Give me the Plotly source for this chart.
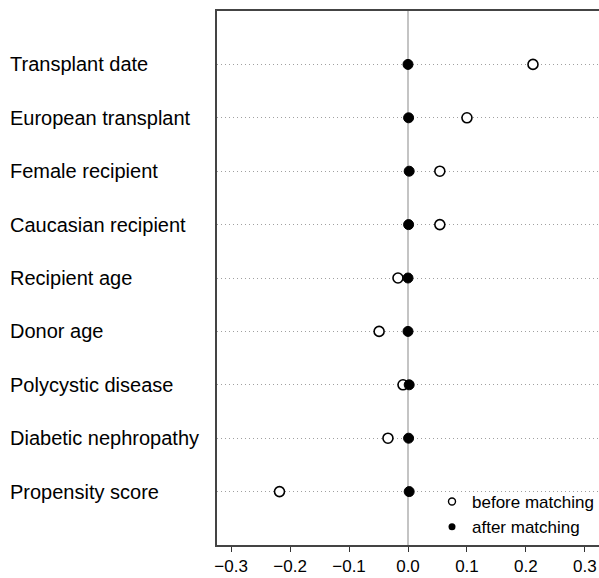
import plotly.graph_objects as go

categories = ["Transplant date", "European transplant", "Female recipient",
              "Caucasian recipient", "Recipient age", "Donor age",
              "Polycystic disease", "Diabetic nephropathy", "Propensity score"]
before_matching = [0.212, 0.100, 0.054, 0.054, -0.017, -0.049, -0.0085, -0.034, -0.218]
after_matching = [0.0, 0.001, 0.002, 0.001, 0.0, 0.0, 0.002, 0.001, 0.002]
x_ticks = [-0.3, -0.2, -0.1, 0.0, 0.1, 0.2, 0.3]

n = len(categories)
ypos = [n - i for i in range(n)]

FONT = "Liberation Sans, Arial, Helvetica, sans-serif"

fig = go.Figure()
fig.add_trace(go.Scatter(x=before_matching, y=ypos, mode="markers", showlegend=False,
                         marker=dict(symbol="circle", size=10, color="white",
                                     line=dict(color="black", width=1.6))))
fig.add_trace(go.Scatter(x=after_matching, y=ypos, mode="markers", showlegend=False,
                         marker=dict(symbol="circle", size=10, color="black",
                                     line=dict(color="black", width=1))))
# legend entries
fig.add_trace(go.Scatter(x=[None], y=[None], mode="markers", name="before matching",
                         marker=dict(symbol="circle", size=7, color="white",
                                     line=dict(color="black", width=1.4))))
fig.add_trace(go.Scatter(x=[None], y=[None], mode="markers", name="after matching",
                         marker=dict(symbol="circle", size=7, color="black")))

for cat, y in zip(categories, ypos):
    fig.add_annotation(x=-0.547, xref="paper", y=y, yref="y", text=cat,
                       showarrow=False, xanchor="left", yanchor="middle",
                       font=dict(size=20, color="black", family=FONT))

fig.update_xaxes(range=[-0.324, 0.324], tickvals=x_ticks, tickformat=".1f",
                 ticks="outside", ticklen=5, tickcolor="#333", tickwidth=1.2,
                 showgrid=False, zeroline=True, zerolinecolor="#c4c4c4", zerolinewidth=2,
                 showline=True, mirror=True, linecolor="#444", linewidth=1.5,
                 automargin=False,
                 tickfont=dict(size=17, color="black", family=FONT))
fig.update_yaxes(range=[0, n + 1], tickvals=ypos, showticklabels=False,
                 showgrid=True, griddash="1px,3px", gridcolor="#a0a0a0", gridwidth=1.2,
                 zeroline=False, showline=True, mirror=True, linecolor="#444", linewidth=1.5,
                 automargin=False)

fig.update_layout(width=599, height=578, margin=dict(l=217, r=0, t=11, b=33, autoexpand=False),
                  plot_bgcolor="white", paper_bgcolor="white",
                  font=dict(family=FONT, color="black"),
                  legend=dict(x=1.0, xanchor="right", y=0, yanchor="bottom",
                              bgcolor="rgba(0,0,0,0)", font=dict(size=17, family=FONT),
                              itemsizing="trace", tracegroupgap=0))
fig.write_html("out.html", config={"displayModeBar": False},
               post_script="document.body.style.margin='0';document.body.style.overflow='hidden';")
